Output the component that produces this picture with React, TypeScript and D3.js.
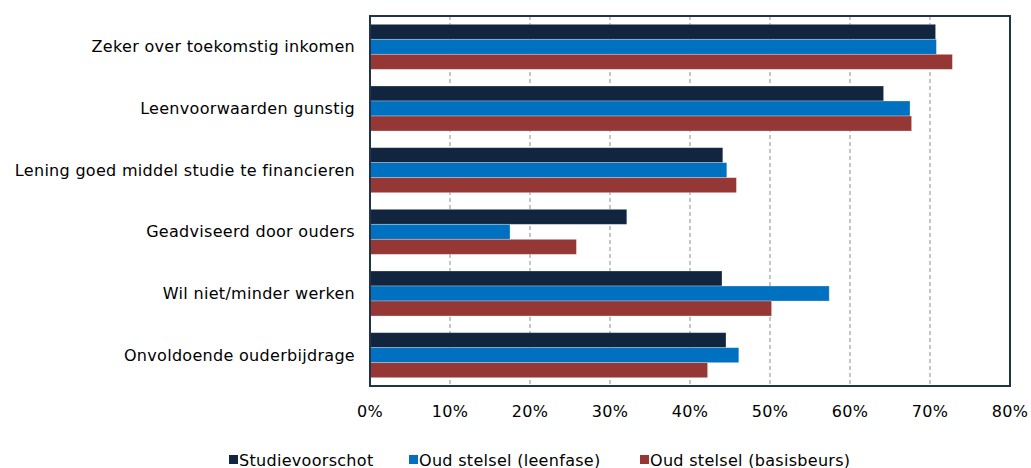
import * as d3 from 'd3';

const categories = [
  'Zeker over toekomstig inkomen',
  'Leenvoorwaarden gunstig',
  'Lening goed middel studie te financieren',
  'Geadviseerd door ouders',
  'Wil niet/minder werken',
  'Onvoldoende ouderbijdrage',
];

const seriesNames = ['Studievoorschot', 'Oud stelsel (leenfase)', 'Oud stelsel (basisbeurs)'];

const studievoorschot = [70.7, 64.2, 44.1, 32.1, 44.0, 44.5];
const leenfase = [70.8, 67.5, 44.6, 17.5, 57.4, 46.1];
const basisbeurs = [72.8, 67.7, 45.8, 25.8, 50.2, 42.2];

const xTicks = [0, 10, 20, 30, 40, 50, 60, 70, 80];

const colors = ['#12253f', '#0070c0', '#953735'];

const width = 1031;
const height = 468;
const margin = { top: 16, right: 21, bottom: 82, left: 370 };
const font = '"DejaVu Sans", sans-serif';

export default function App() {
  const series = [studievoorschot, leenfase, basisbeurs];

  const x = d3.scaleLinear().domain([0, 80]).range([margin.left, width - margin.right]);
  const y = d3
    .scaleBand<string>()
    .domain(categories)
    .range([margin.top, height - margin.bottom])
    .paddingInner(0.27)
    .paddingOuter(0.135);
  const inner = d3
    .scaleBand<number>()
    .domain(d3.range(series.length))
    .range([0, y.bandwidth()]);

  const plotTop = margin.top;
  const plotBottom = height - margin.bottom;

  // legend: square x positions
  const legendX = [229, 409, 640];

  return (
    <svg
      width={width}
      height={height}
      style={{ position: 'absolute', left: 0, top: 0, background: '#fff' }}
      fontFamily={font}
      letterSpacing={0.3}
    >
      {/* gridlines */}
      {xTicks.slice(1, -1).map((t) => (
        <line
          key={t}
          x1={x(t)}
          x2={x(t)}
          y1={plotTop}
          y2={plotBottom}
          stroke='#8c8c8c'
          strokeWidth={1}
          strokeDasharray='4,3'
        />
      ))}

      {/* bars */}
      {categories.map((c, i) => (
        <g key={c} transform={`translate(0,${y(c)})`}>
          {series.map((s, j) => (
            <rect
              key={j}
              x={x(0)}
              y={inner(j)}
              width={x(s[i]) - x(0)}
              height={inner.bandwidth()}
              fill={colors[j]}
              stroke='#ffffff'
              strokeOpacity={0.35}
              strokeWidth={0.8}
            />
          ))}
        </g>
      ))}

      {/* frame */}
      <rect
        x={x(0)}
        y={plotTop}
        width={x(80) - x(0)}
        height={plotBottom - plotTop}
        fill='none'
        stroke='#1f3350'
        strokeWidth={2}
      />

      {/* category labels */}
      {categories.map((c) => (
        <text
          key={c}
          x={355}
          y={(y(c) ?? 0) + y.bandwidth() / 2}
          textAnchor='end'
          dominantBaseline='central'
          fontSize={16}
          fill='#000'
        >
          {c}
        </text>
      ))}

      {/* x tick labels */}
      {xTicks.map((t) => (
        <text key={t} x={x(t)} y={411} textAnchor='middle' dominantBaseline='central' fontSize={16} fill='#000'>
          {t}%
        </text>
      ))}

      {/* legend */}
      {seriesNames.map((n, j) => (
        <g key={n}>
          <rect x={legendX[j]} y={455} width={9} height={9} fill={colors[j]} />
          <text x={legendX[j] + 10} y={460} dominantBaseline='central' fontSize={16} fill='#000'>
            {n}
          </text>
        </g>
      ))}
    </svg>
  );
}
